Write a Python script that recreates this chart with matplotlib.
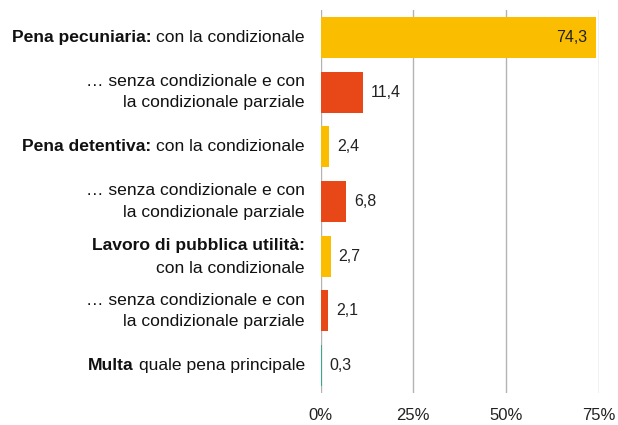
import matplotlib.pyplot as plt

# data
bold_parts = ['Pena pecuniaria:', '', 'Pena detentiva:', '', 'Lavoro di pubblica utilità:', '', 'Multa']
normal_parts = ['con la condizionale',
                '… senza condizionale e con\nla condizionale parziale',
                'con la condizionale',
                '… senza condizionale e con\nla condizionale parziale',
                'con la condizionale',
                '… senza condizionale e con\nla condizionale parziale',
                'quale pena principale']
values = [74.3, 11.4, 2.4, 6.8, 2.7, 2.1, 0.3]
bar_colors = ['#fbbd00', '#e84717', '#fbbd00', '#e84717', '#fbbd00', '#e84717', '#3aa88a']
xticks = [0, 25, 50, 75]

plt.rcParams['font.family'] = ['Liberation Sans', 'DejaVu Sans']
fs = 12.6

W, H = 618, 425
fig = plt.figure(figsize=(W / 100, H / 100), dpi=100)
ax = fig.add_axes([320.5 / W, 1 - 393 / H, (599 - 320.5) / W, 383 / H])

n = len(values)
ypos = list(range(n))
ax.barh(ypos, values, height=0.75, color=bar_colors, zorder=2)
ax.set_ylim(n - 0.5, -0.5)
ax.set_xlim(0, 75)
ax.set_xticks(xticks)
ax.set_xticklabels([f'{t}%' for t in xticks], fontsize=12, color='#222222')
ax.set_yticks([])
ax.tick_params(axis='x', length=0, pad=11)
for s in ax.spines.values():
    s.set_visible(False)
ax.grid(axis='x', color='#b3b3b3', linewidth=1, zorder=1)
ax.set_axisbelow(True)

# value labels
for y, v in zip(ypos, values):
    txt = f'{v:.1f}'.replace('.', ',')
    if v > 50:
        ax.annotate(txt, (v, y), xytext=(-9, 0), textcoords='offset pixels',
                    ha='right', va='center', fontsize=11.5, color='#222222')
    else:
        ax.annotate(txt, (v, y), xytext=(8, 0), textcoords='offset pixels',
                    ha='left', va='center', fontsize=11.5, color='#222222')

# category labels with mixed bold / normal text
fig.canvas.draw()
r = fig.canvas.get_renderer()
lab_x = 305
for y, b, t in zip(ypos, bold_parts, normal_parts):
    yc = ax.transData.transform((0, y))[1]
    if b and len(b) > 20:
        fig.text(lab_x / W, (yc + 11) / H, b, ha='right', va='center', fontsize=fs,
                 fontweight='bold', color='#111111')
        fig.text(lab_x / W, (yc - 12) / H, t, ha='right', va='center', fontsize=fs,
                 color='#111111')
    elif b:
        tn = fig.text(lab_x / W, yc / H, t, ha='right', va='center', fontsize=fs,
                      color='#111111')
        wn = tn.get_window_extent(r).width
        fig.text((lab_x - wn - 5) / W, yc / H, b, ha='right', va='center', fontsize=fs,
                 fontweight='bold', color='#111111')
    else:
        fig.text(lab_x / W, yc / H, t, ha='right', va='center', fontsize=fs,
                 color='#111111', multialignment='right', linespacing=1.55)

fig.savefig('out.png', dpi=100)
